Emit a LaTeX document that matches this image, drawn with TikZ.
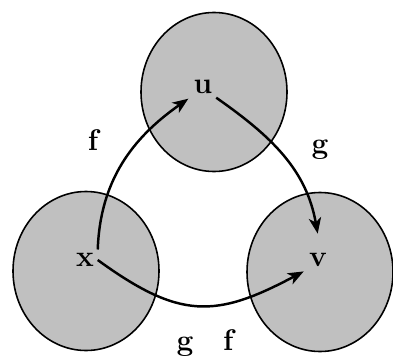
\documentclass[tikz,border=0pt]{standalone}
\usetikzlibrary{shapes.geometric,arrows.meta}
\definecolor{setgray}{RGB}{192,192,192}
\begin{document}
\begin{tikzpicture}[font=\fontsize{17}{20}\selectfont\bfseries, >={Stealth[length=9pt,width=7pt,inset=2.5pt]},
  setblob/.style={ellipse, fill=setgray, draw=black, line width=0.9pt, minimum width=2.92cm, minimum height=3.18cm},
  elem/.style={inner sep=2pt},
  maparrow/.style={->, line width=1.4pt, shorten >=1pt},
  maplabel/.style={inner sep=1pt}]

\useasboundingbox (0,0) rectangle (7.86,7.10);

\node[setblob] (blobu) at (4.28, 5.26) {};
\node[setblob] (blobx) at (1.72, 1.68) {};
\node[setblob] (blobv) at (6.40, 1.66) {};

\node[elem] (u) at (4.06, 5.36) {u};
\node[elem] (x) at (1.70, 1.90) {x};
\node[elem] (v) at (6.36, 1.90) {v};

\node[maplabel] (labf) at (1.86, 4.30) {f};
\node[maplabel] (labg) at (6.40, 4.10) {g};
\node[maplabel] (labgf) at (4.10, 0.24) {g\quad f};

\draw[maparrow] (x.north east) to[out=88, in=215] (u.south west);
\draw[maparrow] (u.south east) to[out=-35, in=100] ([yshift=8pt]v.north);
\draw[maparrow] (x.east) to[out=-36, in=208, looseness=1.25] (v.south west);
\end{tikzpicture}
\end{document}
